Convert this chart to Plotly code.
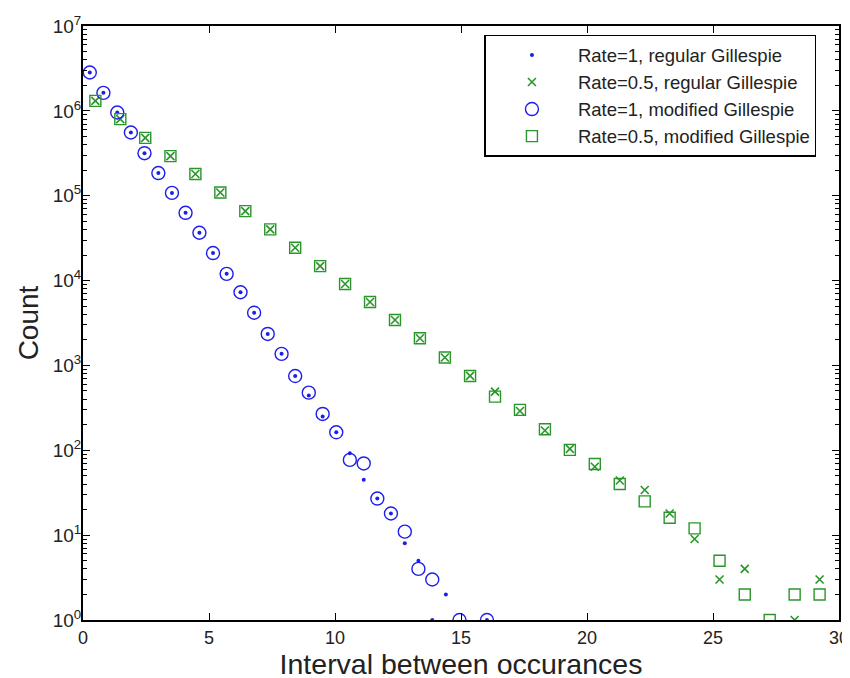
import plotly.graph_objects as go

# Bin centres (x) for each rate
x_rate1 = [0.27, 0.81, 1.36, 1.90, 2.44, 2.99, 3.53, 4.07, 4.62, 5.16,
           5.70, 6.25, 6.79, 7.33, 7.88, 8.42, 8.96, 9.51, 10.05, 10.59,
           11.14, 11.68, 12.22, 12.77, 13.31, 13.86, 14.40, 14.94, 15.48, 16.03]
x_rate05 = [0.49, 1.48, 2.47, 3.47, 4.46, 5.45, 6.44, 7.43, 8.42, 9.41,
            10.40, 11.39, 12.38, 13.37, 14.36, 15.36, 16.35, 17.34, 18.33, 19.32,
            20.31, 21.30, 22.29, 23.28, 24.27, 25.26, 26.26, 27.25, 28.24, 29.23]

# Counts (None = empty bin)
rate1_regular = [2.83e6, 1.63e6, 9.57e5, 5.56e5, 3.17e5, 1.85e5, 1.08e5, 6.29e4, 3.66e4, 2.11e4,
                 1.20e4, 7.28e3, 4.18e3, 2.35e3, 1.37e3, 750, 441, 250, 163, 92,
                 45, 27, 18, 8, 5, 1, 2, None, None, 1]
rate1_modified = [2.83e6, 1.63e6, 9.57e5, 5.56e5, 3.17e5, 1.85e5, 1.08e5, 6.29e4, 3.66e4, 2.11e4,
                  1.20e4, 7.28e3, 4.18e3, 2.35e3, 1.37e3, 750, 478, 268, 163, 77,
                  70, 27, 18, 11, 4, 3, None, 1, None, 1]
rate05_regular = [1.31e6, 8.0e5, 4.81e5, 2.93e5, 1.80e5, 1.09e5, 6.59e4, 4.01e4, 2.44e4, 1.48e4,
                  9.10e3, 5.59e3, 3.43e3, 2.09e3, 1.24e3, 752, 491, 290, 171, 104,
                  64, 44, 34, 18, 9, 3, 4, None, 1, 3]
rate05_modified = [1.31e6, 7.98e5, 4.81e5, 2.93e5, 1.80e5, 1.09e5, 6.59e4, 4.01e4, 2.44e4, 1.48e4,
                   9.10e3, 5.59e3, 3.43e3, 2.09e3, 1.24e3, 752, 429, 299, 177, 101,
                   69, 40, 25, 16, 12, 5, 2, 1, 2, 2]

names = ["Rate=1, regular Gillespie", "Rate=0.5, regular Gillespie",
         "Rate=1, modified Gillespie", "Rate=0.5, modified Gillespie"]

x_ticks = [0, 5, 10, 15, 20, 25, 30]
y_exponents = [0, 1, 2, 3, 4, 5, 6, 7]

BLUE = "rgb(30,30,235)"
GREEN = "rgb(40,150,40)"

fig = go.Figure()
fig.add_trace(go.Scatter(x=x_rate1, y=rate1_regular, mode="markers", name=names[0],
                         marker=dict(symbol="circle", size=4, color=BLUE)))
fig.add_trace(go.Scatter(x=x_rate05, y=rate05_regular, mode="markers", name=names[1],
                         marker=dict(symbol="x-thin", size=8, color=GREEN,
                                     line=dict(color=GREEN, width=1.6))))
fig.add_trace(go.Scatter(x=x_rate1, y=rate1_modified, mode="markers", name=names[2],
                         marker=dict(symbol="circle-open", size=13, color=BLUE,
                                     line=dict(color=BLUE, width=1.4))))
fig.add_trace(go.Scatter(x=x_rate05, y=rate05_modified, mode="markers", name=names[3],
                         marker=dict(symbol="square-open", size=11, color=GREEN,
                                     line=dict(color=GREEN, width=1.4))))

minor_vals = [m * 10 ** e for e in range(0, 7) for m in range(2, 10)]

fig.update_layout(
    width=850, height=678,
    margin=dict(l=75, r=19, t=18, b=66),
    paper_bgcolor="white", plot_bgcolor="white",
    font=dict(family="Liberation Sans, Arial, sans-serif", color="#222", size=18),
    showlegend=True,
    legend=dict(x=0.531, y=0.985, xanchor="left", yanchor="top",
                bordercolor="black", borderwidth=1.5, bgcolor="white",
                font=dict(size=18.5, color="#222"), tracegroupgap=0,
                itemsizing="trace", itemwidth=82),
    xaxis=dict(range=[0, 30], tickvals=x_ticks, ticktext=[str(v) for v in x_ticks],
               ticks="inside", ticklen=7, tickcolor="black", tickwidth=1,
               showline=True, linecolor="black", linewidth=2, mirror="ticks",
               showgrid=False, zeroline=False, automargin=False,
               title=dict(text="Interval between occurances", font=dict(size=28.5), standoff=2),
               tickfont=dict(size=18)),
    yaxis=dict(type="log", range=[0, 7],
               tickvals=[10 ** e for e in y_exponents],
               ticktext=["10<sup>%d</sup>" % e for e in y_exponents],
               ticks="inside", ticklen=7, tickcolor="black", tickwidth=1,
               ticklabelstandoff=-4,
               minor=dict(tickvals=minor_vals, ticks="inside", ticklen=4,
                          tickcolor="black", showgrid=False),
               showline=True, linecolor="black", linewidth=2, mirror="ticks",
               showgrid=False, zeroline=False, automargin=False,
               title=dict(text="Count", font=dict(size=28), standoff=6),
               tickfont=dict(size=19)),
)

fig.write_html("out.html")
